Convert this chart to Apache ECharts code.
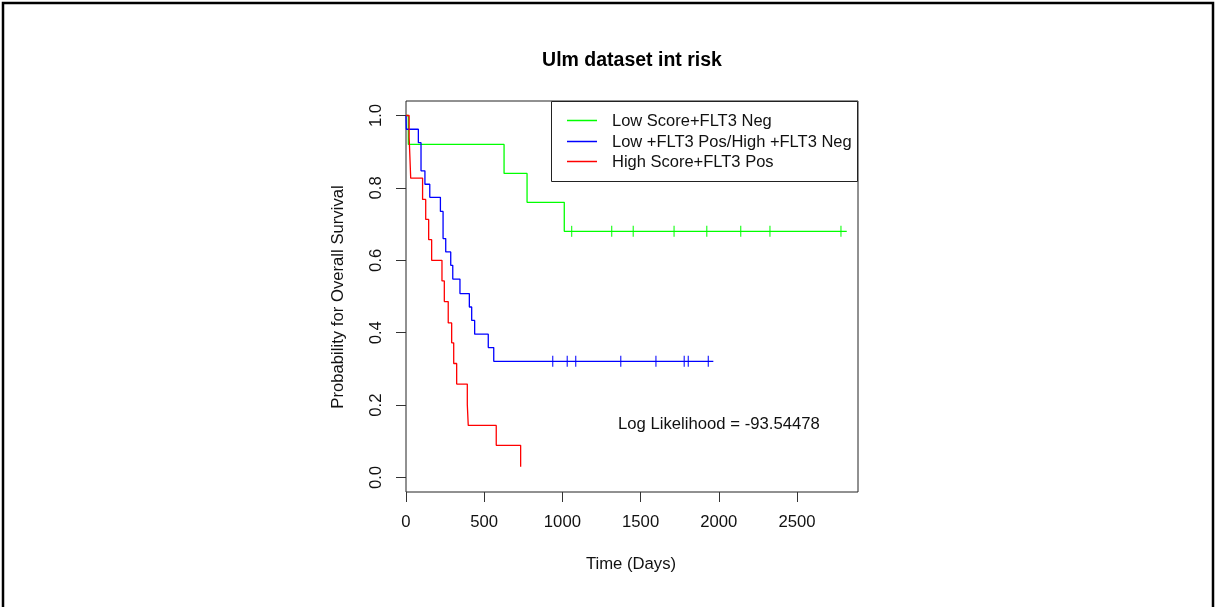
<!DOCTYPE html>
<html>
<head>
<meta charset="utf-8">
<title>Ulm dataset int risk</title>
<script src="https://cdn.jsdelivr.net/npm/echarts@6/dist/echarts.min.js"></script>
<style>
  html, body { margin: 0; padding: 0; background: #fff; }
  #chart { width: 1216px; height: 607px; }
</style>
</head>
<body>
<div id="chart"></div>
<script>
// Kaplan-Meier estimates per group: event days and survival after each event
const groupNames = ['Low Score+FLT3 Neg', 'Low +FLT3 Pos/High +FLT3 Neg', 'High Score+FLT3 Pos'];
const groupColors = ['#00ff00', '#0000ff', '#ff0000'];

const greenEventDays = [15, 627, 774, 1012];
const greenSurvival  = [0.92, 0.84, 0.76, 0.68];
const greenCensorDays = [1059, 1315, 1453, 1714, 1923, 2140, 2327, 2781];
const greenLastDay = 2818;

const blueEventDays = [2, 79, 96, 121, 152, 220, 237, 254, 286, 299, 345, 405, 420, 439, 526, 561];
const blueSurvival  = [0.962, 0.925, 0.847, 0.81, 0.774, 0.735, 0.66, 0.623, 0.586, 0.548, 0.508, 0.471, 0.434, 0.396, 0.359, 0.321];
const blueCensorDays = [938, 1031, 1085, 1373, 1598, 1779, 1805, 1933];
const blueLastDay = 1965;

const redEventDays = [20, 25, 30, 106, 126, 145, 164, 230, 245, 270, 292, 305, 324, 392, 398, 577, 733];
const redSurvival  = [0.94, 0.885, 0.827, 0.768, 0.713, 0.657, 0.600, 0.543, 0.486, 0.427, 0.372, 0.315, 0.258, 0.201, 0.144, 0.089, 0.030];
const redCensorDays = [];
const redLastDay = 733;

const xTicks = [0, 500, 1000, 1500, 2000, 2500];
const yTicks = [0, 0.2, 0.4, 0.6, 0.8, 1.0];
const logLikelihoodText = 'Log Likelihood = -93.54478';

const FONT = '"Liberation Sans", Arial, sans-serif';
const TEXT_SIZE = 16.7;

// Step curve points: start at (0, 1), drop at each event, carry on to the last follow-up day
function curvePoints(days, surv, lastDay) {
  const pts = [[0, 1]];
  days.forEach((d, i) => pts.push([d, surv[i]]));
  const lastS = surv.length ? surv[surv.length - 1] : 1;
  const lastD = pts[pts.length - 1][0];
  if (lastDay > lastD) pts.push([lastDay, lastS]);
  return pts;
}
// Survival level of the curve at a censoring day
function levelAt(days, surv, t) {
  let s = 1;
  days.forEach((d, i) => { if (d <= t) s = surv[i]; });
  return s;
}

const groups = [
  { days: greenEventDays, surv: greenSurvival, cens: greenCensorDays, last: greenLastDay },
  { days: blueEventDays, surv: blueSurvival, cens: blueCensorDays, last: blueLastDay },
  { days: redEventDays, surv: redSurvival, cens: redCensorDays, last: redLastDay }
];

const series = [];
groups.forEach((g, k) => {
  series.push({
    name: groupNames[k],
    type: 'line',
    step: 'end',
    symbol: 'none',
    silent: true,
    z: 3,
    lineStyle: { color: groupColors[k], width: 1.3 },
    data: curvePoints(g.days, g.surv, g.last)
  });
  if (g.cens.length) {
    series.push({
      name: groupNames[k] + ' censored',
      type: 'scatter',
      symbol: 'rect',
      symbolSize: [1.3, 11],
      silent: true,
      z: 4,
      itemStyle: { color: groupColors[k] },
      data: g.cens.map(t => [t, levelAt(g.days, g.surv, t)])
    });
  }
});

// Plot region
const G = { left: 406, top: 101, width: 452, height: 391 };

// Legend box in the upper right corner of the plot
const legendEls = [{
  type: 'rect',
  shape: { x: 551.5, y: 101.5, width: 306, height: 80 },
  style: { fill: '#fff', stroke: '#222', lineWidth: 1 }
}];
const legendRows = [120, 141, 161];
groupNames.forEach((name, k) => {
  const y = legendRows[k];
  legendEls.push({
    type: 'rect',
    z: 10,
    shape: { x: 567, y: y - 0.25, width: 30, height: 1.5 },
    style: { fill: groupColors[k], stroke: null }
  });
  legendEls.push({
    type: 'text',
    style: { x: 612, y: y + 1, text: name, fill: '#111', font: '16.5px ' + FONT, textVerticalAlign: 'middle', textAlign: 'left' }
  });
});

const chart = echarts.init(document.getElementById('chart'), null, { renderer: 'canvas' });
chart.setOption({
  animation: false,
  backgroundColor: '#fff',
  grid: Object.assign({ show: true, borderColor: '#222', borderWidth: 1, backgroundColor: 'transparent' }, G),
  xAxis: {
    type: 'value',
    min: 0,
    max: 2890,
    axisLine: { show: false, onZero: false },
    splitLine: { show: false },
    axisTick: { show: true, inside: false, length: 10, lineStyle: { color: '#333' }, customValues: xTicks },
    axisLabel: { customValues: xTicks, margin: 22, color: '#111', fontSize: TEXT_SIZE, fontFamily: FONT, formatter: v => String(v) }
  },
  yAxis: {
    type: 'value',
    min: -0.04,
    max: 1.04,
    axisLine: { show: false, onZero: false },
    splitLine: { show: false },
    axisTick: { show: true, inside: false, length: 10, lineStyle: { color: '#333' }, customValues: yTicks },
    axisLabel: {
      customValues: yTicks, rotate: 90, margin: 21, color: '#111', fontSize: TEXT_SIZE, fontFamily: FONT,
      formatter: v => v.toFixed(1)
    }
  },
  series: series,
  graphic: [
    { type: 'rect', shape: { x: 3, y: 3, width: 1210, height: 640 }, style: { fill: 'none', stroke: '#000', lineWidth: 2.5 }, silent: true },
    { type: 'text', style: { x: 632, y: 61, text: 'Ulm dataset int risk', fill: '#000', font: 'bold 19.5px ' + FONT, textAlign: 'center', textVerticalAlign: 'middle' } },
    { type: 'text', style: { x: 631, y: 564, text: 'Time (Days)', fill: '#111', font: TEXT_SIZE + 'px ' + FONT, textAlign: 'center', textVerticalAlign: 'middle' } },
    { type: 'text', x: 338, y: 297, rotation: Math.PI / 2, style: { x: 0, y: 0, text: 'Probability for Overall Survival', fill: '#111', font: TEXT_SIZE + 'px ' + FONT, textAlign: 'center', textVerticalAlign: 'middle' } },
    { type: 'text', style: { x: 618, y: 424, text: logLikelihoodText, fill: '#111', font: TEXT_SIZE + 'px ' + FONT, textAlign: 'left', textVerticalAlign: 'middle' } },
    { type: 'group', children: legendEls }
  ]
});
</script>
</body>
</html>
